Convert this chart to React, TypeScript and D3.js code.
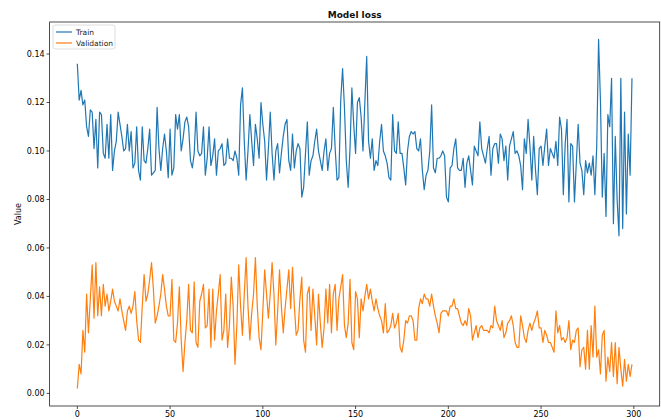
import React from "react";
import * as d3 from "d3";

const trainA = [
  0.136, 0.121, 0.125, 0.119, 0.121, 0.110, 0.106, 0.117, 0.116, 0.101,
  0.113, 0.093, 0.116, 0.115, 0.099, 0.097, 0.111, 0.097, 0.115, 0.092,
  0.100, 0.104, 0.116, 0.111, 0.106, 0.100, 0.101, 0.111, 0.100, 0.108,
  0.093, 0.095, 0.110, 0.092, 0.088, 0.110, 0.096, 0.095, 0.101, 0.109,
  0.090, 0.091, 0.092, 0.118, 0.101, 0.092, 0.101, 0.107, 0.100, 0.089,
  0.109, 0.090, 0.093, 0.115, 0.109, 0.115, 0.100, 0.105, 0.112, 0.114,
  0.110, 0.096, 0.093, 0.099, 0.116, 0.100, 0.098, 0.099, 0.110, 0.090,
  0.097,
];
const trainB = [
  0.110, 0.094, 0.098, 0.105, 0.090, 0.100, 0.101, 0.103, 0.094, 0.095,
  0.105, 0.097, 0.097, 0.096, 0.100, 0.097, 0.090, 0.119, 0.126, 0.104,
  0.088, 0.100, 0.115, 0.104, 0.094, 0.111, 0.105, 0.097, 0.120, 0.111,
  0.104, 0.088, 0.101, 0.116, 0.099, 0.088, 0.100, 0.103, 0.091, 0.099,
  0.106, 0.111, 0.113, 0.096, 0.092, 0.107, 0.093, 0.100, 0.103, 0.101,
  0.081, 0.085, 0.099, 0.112, 0.090, 0.096, 0.098, 0.104, 0.109, 0.100,
  0.096, 0.092, 0.100, 0.105, 0.092, 0.099, 0.101, 0.118, 0.101, 0.088,
  0.089, 0.121, 0.134, 0.118, 0.096, 0.085,
];
const trainC = [
  0.101, 0.126, 0.111, 0.099, 0.120, 0.122, 0.114, 0.100, 0.120, 0.139,
  0.104, 0.097, 0.105, 0.092, 0.096, 0.094, 0.104, 0.111, 0.100, 0.098,
  0.095, 0.089, 0.088, 0.115, 0.100, 0.099, 0.112, 0.099, 0.099, 0.093,
  0.086, 0.100, 0.106, 0.108, 0.107, 0.108, 0.101, 0.100, 0.105, 0.092,
  0.084, 0.090, 0.092, 0.100, 0.119, 0.093, 0.091, 0.097, 0.097, 0.098,
  0.100, 0.098, 0.081, 0.079, 0.093, 0.094, 0.101, 0.105, 0.093, 0.092,
  0.092, 0.097, 0.085, 0.095, 0.098, 0.092, 0.086, 0.102, 0.100, 0.098,
  0.112, 0.101, 0.098, 0.095, 0.101,
];
const trainD = [
  0.106, 0.090, 0.101, 0.103, 0.103, 0.095, 0.107, 0.105, 0.096, 0.102,
  0.088, 0.102, 0.105, 0.108, 0.099, 0.100, 0.098, 0.094, 0.084, 0.105,
  0.099, 0.113, 0.102, 0.088, 0.106, 0.092, 0.082, 0.101, 0.102, 0.094,
  0.102, 0.109, 0.094, 0.101, 0.099, 0.097, 0.104, 0.094, 0.114, 0.109,
  0.082, 0.103, 0.113, 0.079, 0.103, 0.102, 0.079, 0.095, 0.111, 0.095,
  0.092, 0.082, 0.096, 0.091, 0.095, 0.090, 0.098, 0.082, 0.102, 0.146,
  0.121, 0.081, 0.099, 0.073, 0.115, 0.110, 0.130, 0.070, 0.106, 0.080,
  0.065, 0.130, 0.068, 0.116, 0.074, 0.107, 0.090, 0.130,
];

const valA = [
  0.002, 0.012, 0.008, 0.026, 0.017, 0.041, 0.025, 0.039, 0.053, 0.031,
  0.054, 0.032, 0.044, 0.032, 0.045, 0.036, 0.041, 0.034, 0.038, 0.043,
  0.038, 0.036, 0.034, 0.039, 0.034, 0.030, 0.026, 0.034, 0.036, 0.033,
  0.036, 0.042, 0.030, 0.022, 0.021, 0.036, 0.049, 0.038, 0.041, 0.047,
  0.054, 0.043, 0.029, 0.032, 0.036, 0.041, 0.049, 0.043, 0.036, 0.032,
  0.032, 0.047, 0.022, 0.021, 0.029, 0.044, 0.022, 0.009, 0.021, 0.030,
  0.045, 0.026, 0.025, 0.046, 0.021, 0.019, 0.038, 0.041, 0.045, 0.027,
  0.028,
];
const valB = [
  0.043, 0.019, 0.043, 0.022, 0.034, 0.041, 0.049, 0.022, 0.026, 0.041,
  0.019, 0.028, 0.048, 0.036, 0.012, 0.028, 0.053, 0.036, 0.024, 0.041,
  0.056, 0.036, 0.022, 0.033, 0.041, 0.056, 0.036, 0.023, 0.018, 0.034,
  0.051, 0.041, 0.031, 0.041, 0.054, 0.041, 0.020, 0.034, 0.051, 0.036,
  0.025, 0.035, 0.043, 0.051, 0.035, 0.052, 0.036, 0.024, 0.026, 0.039,
  0.048, 0.022, 0.017, 0.041, 0.044, 0.026, 0.043, 0.032, 0.020, 0.041,
  0.029, 0.019, 0.027, 0.043, 0.029, 0.045, 0.025, 0.041, 0.045, 0.026,
  0.039, 0.044, 0.049, 0.028, 0.023,
];
const valC = [
  0.029, 0.047, 0.021, 0.018, 0.042, 0.039, 0.023, 0.039, 0.034, 0.040,
  0.045, 0.039, 0.043, 0.038, 0.034, 0.039, 0.035, 0.032, 0.030, 0.025,
  0.037, 0.025, 0.026, 0.028, 0.033, 0.027, 0.029, 0.033, 0.019, 0.017,
  0.022, 0.030, 0.029, 0.032, 0.032, 0.030, 0.022, 0.022, 0.035, 0.039,
  0.037, 0.041, 0.039, 0.039, 0.036, 0.041, 0.036, 0.032, 0.029, 0.025,
  0.033, 0.034, 0.034, 0.034, 0.032, 0.036, 0.036, 0.039, 0.035, 0.035,
  0.032, 0.029, 0.028, 0.030, 0.028, 0.035, 0.032, 0.022, 0.025, 0.028,
  0.023, 0.027, 0.028, 0.026, 0.026,
];
const valD = [
  0.026, 0.025, 0.028, 0.027, 0.036, 0.030, 0.028, 0.026, 0.030, 0.023,
  0.025, 0.029, 0.030, 0.032, 0.028, 0.021, 0.019, 0.019, 0.032, 0.028,
  0.023, 0.021, 0.026, 0.029, 0.026, 0.029, 0.031, 0.034, 0.027, 0.027,
  0.021, 0.026, 0.024, 0.021, 0.021, 0.019, 0.017, 0.034, 0.025, 0.028,
  0.022, 0.023, 0.021, 0.023, 0.030, 0.018, 0.022, 0.021, 0.026, 0.027,
  0.011, 0.018, 0.019, 0.010, 0.026, 0.010, 0.028, 0.015, 0.036, 0.015,
  0.018, 0.008, 0.024, 0.026, 0.005, 0.015, 0.009, 0.021, 0.007, 0.021,
  0.004, 0.019, 0.010, 0.003, 0.014, 0.005, 0.012, 0.007, 0.012,
];

const train = [...trainA, ...trainB, ...trainC, ...trainD];
const validation = [...valA, ...valB, ...valC, ...valD];

const xTicks = [0, 50, 100, 150, 200, 250, 300];
const yTicks = [0.0, 0.02, 0.04, 0.06, 0.08, 0.1, 0.12, 0.14];
const seriesNames = ["Train", "Validation"];
const colors = ["#1f77b4", "#ff7f0e"];
const title = "Model loss";
const yLabel = "Value";

export default function App() {
  const W = 661;
  const H = 420;
  const left = 49.6;
  const right = 659.7;
  const top = 22;
  const bottom = 406;

  const all = [...train, ...validation];
  const n = train.length;
  const xMin = 0;
  const xMax = n - 1;
  const xPad = (xMax - xMin) * 0.05;
  const yMin = d3.min(all) as number;
  const yMax = d3.max(all) as number;
  const yPad = (yMax - yMin) * 0.05;

  const x = d3.scaleLinear().domain([xMin - xPad, xMax + xPad]).range([left, right]);
  const y = d3.scaleLinear().domain([yMin - yPad, yMax + yPad]).range([bottom, top]);

  const line = d3
    .line<number>()
    .x((_, i) => x(i))
    .y((d) => y(d));

  const series = [train, validation];
  const fmt = d3.format(".2f");

  return (
    <svg
      width={W}
      height={H}
      style={{ position: "absolute", left: 0, top: 0, background: "#fff" }}
      fontFamily="DejaVu Sans, sans-serif"
    >
      <rect x={0} y={0} width={W} height={H} fill="#fff" />
      {series.map((s, k) => (
        <path
          key={k}
          d={line(s) || ""}
          fill="none"
          stroke={colors[k]}
          strokeWidth={1.2}
          strokeLinejoin="round"
        />
      ))}
      <rect
        x={left}
        y={top}
        width={right - left}
        height={bottom - top}
        fill="none"
        stroke="#222"
        strokeWidth={0.8}
      />
      {xTicks.map((t) => (
        <g key={t}>
          <line x1={x(t)} x2={x(t)} y1={bottom} y2={bottom + 3} stroke="#222" strokeWidth={0.8} />
          <text x={x(t)} y={bottom + 11} fontSize={8} textAnchor="middle" fill="#000">
            {t}
          </text>
        </g>
      ))}
      {yTicks.map((t) => (
        <g key={t}>
          <line x1={left - 3} x2={left} y1={y(t)} y2={y(t)} stroke="#222" strokeWidth={0.8} />
          <text
            x={left - 5}
            y={y(t)}
            dy="0.35em"
            fontSize={8}
            textAnchor="end"
            fill="#000"
          >
            {fmt(t)}
          </text>
        </g>
      ))}
      <text
        x={(left + right) / 2}
        y={18}
        fontSize={9}
        fontWeight="bold"
        textAnchor="middle"
        fill="#111"
      >
        {title}
      </text>
      <text
        transform={`translate(21,${(top + bottom) / 2}) rotate(-90)`}
        fontSize={8}
        textAnchor="middle"
        fill="#111"
      >
        {yLabel}
      </text>
      <g>
        <rect
          x={53}
          y={25}
          width={62}
          height={24}
          rx={2}
          fill="#fff"
          fillOpacity={0.8}
          stroke="#d6d6d6"
          strokeWidth={0.8}
        />
        {seriesNames.map((name, k) => (
          <g key={name}>
            <line
              x1={56}
              x2={72}
              y1={32 + k * 11}
              y2={32 + k * 11}
              stroke={colors[k]}
              strokeWidth={1.2}
            />
            <text x={76} y={32 + k * 11} dy="0.35em" fontSize={7.5} fill="#222">
              {name}
            </text>
          </g>
        ))}
      </g>
    </svg>
  );
}
